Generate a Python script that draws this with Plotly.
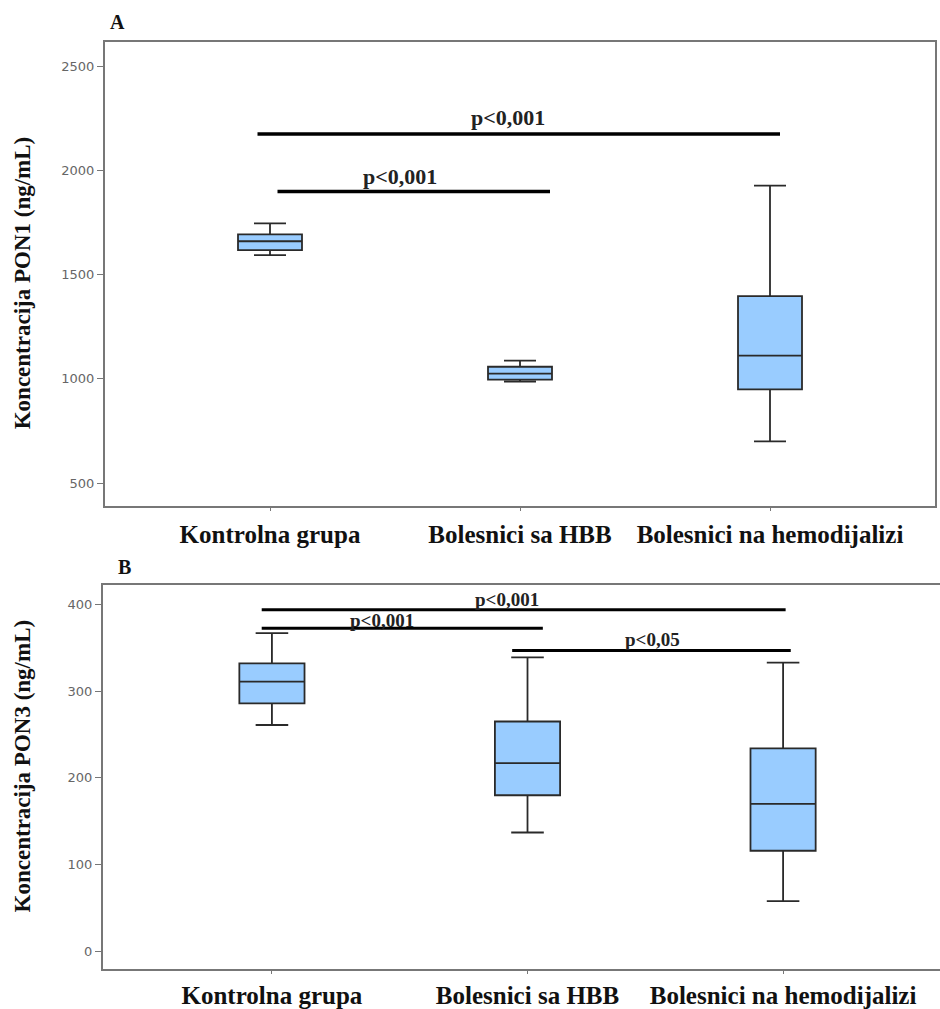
import plotly.graph_objects as go

categories = ["Kontrolna grupa", "Bolesnici sa HBB", "Bolesnici na hemodijalizi"]

# Panel A: PON1 (ng/mL)
a_low = [1593, 987, 700]
a_q1 = [1617, 996, 949]
a_med = [1660, 1025, 1111]
a_q3 = [1693, 1058, 1397]
a_high = [1746, 1087, 1927]

# Panel B: PON3 (ng/mL)
b_low = [261, 137, 58]
b_q1 = [286, 180, 116]
b_med = [311, 217, 170]
b_q3 = [332, 265, 234]
b_high = [367, 339, 333]

# Significance brackets
a_sig_x0 = [-0.05, 0.03]
a_sig_x1 = [2.04, 1.12]
a_sig_y = [2175, 1899]
a_sig_text = ["p<0,001", "p<0,001"]
a_sig_tx = [0.95, 0.52]
a_sig_ty = [2252, 1970]

b_sig_x0 = [-0.04, -0.04, 0.94]
b_sig_x1 = [2.01, 1.06, 2.03]
b_sig_y = [394, 372.5, 347]
b_sig_text = ["p<0,001", "p<0,001", "p<0,05"]
b_sig_tx = [0.92, 0.43, 1.49]
b_sig_ty = [406, 381, 360]

a_yticks = [500, 1000, 1500, 2000, 2500]
b_yticks = [0, 100, 200, 300, 400]

W, H = 940, 1009
FILL = "#99CCFF"
EDGE = "#2a2a2a"
SERIF = "Liberation Serif"

fig = go.Figure()

for i in range(3):
    fig.add_trace(go.Box(
        x=[i], q1=[a_q1[i]], median=[a_med[i]], q3=[a_q3[i]],
        lowerfence=[a_low[i]], upperfence=[a_high[i]],
        width=0.256, whiskerwidth=0.5, fillcolor=FILL,
        line=dict(color=EDGE, width=1.8), boxpoints=False,
        xaxis="x", yaxis="y", showlegend=False, hoverinfo="skip"))
    fig.add_trace(go.Box(
        x=[i], q1=[b_q1[i]], median=[b_med[i]], q3=[b_q3[i]],
        lowerfence=[b_low[i]], upperfence=[b_high[i]],
        width=0.255, whiskerwidth=0.5, fillcolor=FILL,
        line=dict(color=EDGE, width=1.8), boxpoints=False,
        xaxis="x2", yaxis="y2", showlegend=False, hoverinfo="skip"))

shapes = []
annotations = []
for x0, x1, y in zip(a_sig_x0, a_sig_x1, a_sig_y):
    shapes.append(dict(type="line", xref="x", yref="y", x0=x0, x1=x1, y0=y, y1=y,
                       line=dict(color="black", width=3.5)))
for t, tx, ty in zip(a_sig_text, a_sig_tx, a_sig_ty):
    annotations.append(dict(xref="x", yref="y", x=tx, y=ty, text="<b>%s</b>" % t,
                            xanchor="center", yanchor="middle", showarrow=False,
                            font=dict(family=SERIF, size=22, color="#222")))
for x0, x1, y in zip(b_sig_x0, b_sig_x1, b_sig_y):
    shapes.append(dict(type="line", xref="x2", yref="y2", x0=x0, x1=x1, y0=y, y1=y,
                       line=dict(color="black", width=3)))
for t, tx, ty in zip(b_sig_text, b_sig_tx, b_sig_ty):
    annotations.append(dict(xref="x2", yref="y2", x=tx, y=ty, text="<b>%s</b>" % t,
                            xanchor="center", yanchor="middle", showarrow=False,
                            font=dict(family=SERIF, size=19, color="#222")))

# Panel letters and y titles
annotations += [
    dict(xref="paper", yref="paper", x=118 / W, y=1 - 22 / H, text="<b>A</b>", showarrow=False,
         xanchor="center", yanchor="middle", font=dict(family=SERIF, size=20, color="#111")),
    dict(xref="paper", yref="paper", x=124 / W, y=1 - 570 / H, text="<b>B</b>", showarrow=False,
         xanchor="center", yanchor="middle", font=dict(family=SERIF, size=20, color="#111")),
    dict(xref="paper", yref="paper", x=22 / W, y=1 - 285 / H, text="<b>Koncentracija PON1 (ng/mL)</b>",
         textangle=-90, xanchor="center", yanchor="middle", showarrow=False,
         font=dict(family=SERIF, size=23, color="#111")),
    dict(xref="paper", yref="paper", x=22 / W, y=1 - 771 / H, text="<b>Koncentracija PON3 (ng/mL)</b>",
         textangle=-90, xanchor="center", yanchor="middle", showarrow=False,
         font=dict(family=SERIF, size=23, color="#111")),
]

axis_line = dict(showline=True, linecolor="#777", linewidth=2,
                 showgrid=False, zeroline=False)
tick_font = dict(family="DejaVu Sans", size=13, color="#666")
cat_font = dict(family=SERIF, size=25, color="#111")
cat_labels = ["<b>%s</b>" % c for c in categories]

fig.update_layout(
    width=W, height=H, margin=dict(l=0, r=0, t=0, b=0),
    paper_bgcolor="white", plot_bgcolor="white",
    shapes=shapes, annotations=annotations,
    xaxis=dict(domain=[105 / W, 935 / W], range=[-0.66, 2.66], anchor="y",
               tickvals=[0, 1, 2], ticktext=cat_labels, tickfont=cat_font, mirror=True,
               ticks="outside", ticklen=3, tickcolor="#777", ticklabelstandoff=2, **axis_line),
    yaxis=dict(domain=[1 - 509 / H, 1 - 42 / H], range=[390, 2617], anchor="x", mirror=True,
               tickvals=a_yticks, tickfont=tick_font, ticks="outside", ticklen=6,
               tickcolor="#777", **axis_line),
    xaxis2=dict(domain=[103 / W, 1.0], range=[-0.661, 2.614], anchor="y2", mirror=True,
                tickvals=[0, 1, 2], ticktext=cat_labels, tickfont=cat_font,
                ticks="outside", ticklen=3, tickcolor="#777", ticklabelstandoff=0, **axis_line),
    yaxis2=dict(domain=[1 - 975 / H, 1 - 588 / H], range=[-20.6, 423], anchor="x2", mirror=False,
                tickvals=b_yticks, tickfont=tick_font, ticks="outside", ticklen=6,
                tickcolor="#777", **axis_line),
)

fig.write_html("out.html", config={"displayModeBar": False},
               post_script="document.body.style.margin='0px';")
